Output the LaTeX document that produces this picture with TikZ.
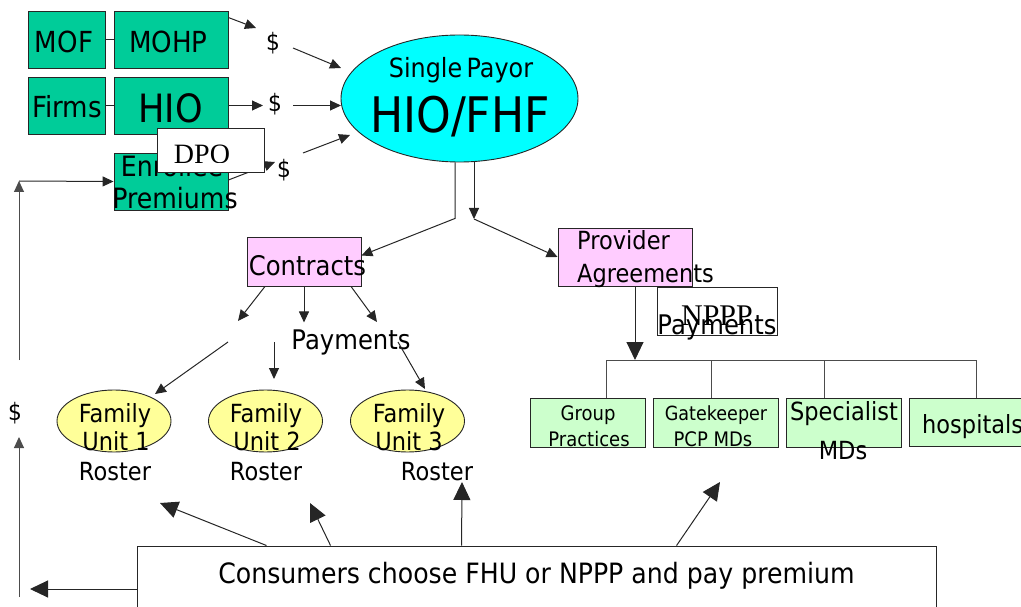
\documentclass[tikz,border=0pt]{standalone}
\usepackage{fontspec}
\setmainfont{DejaVu Sans}[FakeStretch=0.9]
\newfontfamily\dposerif{Liberation Serif}
\usetikzlibrary{arrows.meta,shapes.geometric}
\definecolor{boxgreen}{HTML}{00CC99}
\definecolor{payorcyan}{HTML}{00FFFF}
\definecolor{contpink}{HTML}{FFCCFF}
\definecolor{famyellow}{HTML}{FFFF99}
\definecolor{provgreen}{HTML}{CCFFCC}
\newcommand\fsz[1]{\fontsize{#1}{#1}\selectfont}

\begin{document}
\begin{tikzpicture}[x=1pt,y=-1pt,
  box/.style={draw=black!85, line width=0.9pt, inner sep=0pt, rectangle},
  gbox/.style={box, fill=boxgreen},
  pbox/.style={box, fill=contpink},
  lbox/.style={box, fill=provgreen},
  wbox/.style={box, fill=white},
  oval/.style={ellipse, draw=black!85, line width=0.9pt, inner sep=0pt},
  txt/.style={inner sep=0pt, anchor=base},
  ltxt/.style={inner sep=0pt, anchor=base west},
  dol/.style={inner sep=0pt, font=\fsz{24}},
  ln/.style={line width=1pt, draw=black!85},
  arr/.style={ln, -{Triangle[length=11pt,width=10pt]}},
  bigarr/.style={ln, -{Triangle[length=18pt,width=17pt]}},
]
\useasboundingbox (0,0) rectangle (1021,607);

% --- funding sources ---
\node[gbox, minimum width=77pt, minimum height=57pt] (mof) at (66.5,39.5) {};
\node[txt] (moft) at (64,53) {\fsz{29}MOF};
\node[gbox, minimum width=114pt, minimum height=57pt] (mohp) at (171,39.5) {};
\node[txt] (mohpt) at (168.5,53) {\fsz{29}MOHP};
\draw[ln] (mof.east) -- (mohp.west);

\node[gbox, minimum width=77pt, minimum height=57pt] (firms) at (66.5,105.5) {};
\node[txt] (firmst) at (67,118) {\fsz{29}Firms};
\node[gbox, minimum width=114pt, minimum height=57pt] (hio) at (171,105.5) {};
\node[txt] (hiot) at (170.5,123) {\fsz{39}HIO};
\draw[ln] (firms.east) -- (hio.west);

\node[gbox, minimum width=114pt, minimum height=57pt] (enrol) at (171,181.5) {};
\node[txt] (enrolt1) at (172,177) {\fsz{28}Enrollee};
\node[txt] (enrolt2) at (175,209) {\fsz{28}Premiums};

% --- single payor ---
\node[oval, fill=payorcyan, minimum width=237pt, minimum height=127pt] (payor) at (459.5,98.5) {};
\node[txt] (payort1) at (461,78) {\fsz{26.5}Single\,Payor};
\node[txt] (payort2) at (460,133) {\fsz{49}HIO/FHF};

% --- money flows into the payor ---
\node[dol] (dol1) at (273,43) {\$};
\node[dol] (dol2) at (275,104) {\$};
\node[dol] (dol3) at (284,170) {\$};
\coordinate (a1e) at (256,28);
\coordinate (a2s) at (293,48);
\coordinate (a2e) at (341,68);
\coordinate (a3e) at (263,105.5);
\coordinate (a4s) at (293,105.5);
\coordinate (a4e) at (341,105.5);
\coordinate (a5e) at (275,162);
\coordinate (a6s) at (303,153);
\coordinate (a6e) at (350,135);
\draw[arr] ([yshift=-7pt]mohp.north east) -- (a1e);
\draw[arr] (a2s) -- (a2e);
\draw[arr] (hio.east) -- (a3e);
\draw[arr] (a4s) -- (a4e);
\draw[arr] ([yshift=1.5pt]enrol.east) -- (a5e);
\draw[arr] (a6s) -- (a6e);

% DPO label over the premiums box
\node[wbox, minimum width=107pt, minimum height=44pt] (dpo) at (210.5,150) {};
\begin{scope}
  \clip (dpo.north west) rectangle ([yshift=10pt]dpo.south east);
  \node[txt] (dpot) at (202,163.5) {\dposerif\fsz{28}DPO};
\end{scope}

% --- contracts and provider agreements ---
\node[pbox, minimum width=114pt, minimum height=49pt] (contracts) at (304,261.5) {};
\node[txt] (contractst) at (307.5,275) {\fsz{27}Contracts};
\node[pbox, minimum width=134pt, minimum height=58pt] (provider) at (625,257) {};
\node[ltxt] (providert1) at (577,250) {\fsz{25}Provider};
\node[ltxt] (providert2) at (577,282) {\fsz{25}Agreements};

\coordinate (split) at (474,219);
\draw[arr] ([xshift=-4.5pt]payor.south) -- ++(0,56) -- ([yshift=6pt]contracts.east);
\draw[arr] ([xshift=14.5pt]payor.south) -- (split);
\draw[arr] (split) -- (provider.west);

% --- payments to family health units ---
\node[txt] (paym) at (351,349) {\fsz{27}Payments};
\coordinate (c10) at (238,321);
\coordinate (c12) at (377,322);
\draw[arr] ([xshift=-39pt]contracts.south) -- (c10);
\draw[arr] (contracts.south) -- ++(0,36);
\draw[arr] ([xshift=47pt]contracts.south) -- (c12);

\node[oval, fill=famyellow, minimum width=114pt, minimum height=62pt] (fu1) at (114,421) {};
\node[oval, fill=famyellow, minimum width=114pt, minimum height=62pt] (fu2) at (265.5,421) {};
\node[oval, fill=famyellow, minimum width=114pt, minimum height=62pt] (fu3) at (407.5,421) {};
\node[txt] (fu1a) at (115,422) {\fsz{25}Family};
\node[txt] (fu1b) at (116,450) {\fsz{25}Unit 1};
\node[txt] (fu2a) at (266,422) {\fsz{25}Family};
\node[txt] (fu2b) at (267,450) {\fsz{25}Unit 2};
\node[txt] (fu3a) at (409,422) {\fsz{25}Family};
\node[txt] (fu3b) at (409,450) {\fsz{25}Unit 3};
\node[txt] (ros1) at (115,480) {\fsz{25}Roster};
\node[txt] (ros2) at (266,480) {\fsz{25}Roster};
\node[txt] (ros3) at (437,480) {\fsz{25}Roster};

\coordinate (p1s) at (228,342);
\coordinate (p1e) at (155,394);
\coordinate (p2s) at (274,342);
\coordinate (p2e) at (274,379);
\coordinate (p3s) at (398,342);
\coordinate (p3e) at (425,389);
\draw[arr] (p1s) -- (p1e);
\draw[arr] (p2s) -- (p2e);
\draw[arr] (p3s) -- (p3e);

% --- NPPP payments to providers ---
\node[wbox, minimum width=120pt, minimum height=48pt] (nppp) at (717,311) {};
\node[txt] (npppt) at (717,325) {\dposerif\fsz{30}NPPP};
\node[txt] (npppp) at (717,334) {\fsz{27}Payments};

\coordinate (barL) at (606,360);
\coordinate (barG) at (711,360);
\coordinate (barS) at (824,360);
\coordinate (barR) at (976,360);
\coordinate (barP) at (635,360);
\draw[bigarr] ([xshift=10pt]provider.south) -- (barP);

\node[lbox, minimum width=115pt, minimum height=49pt] (group) at (587.5,422.5) {};
\node[lbox, minimum width=125pt, minimum height=49pt] (gate) at (715.5,422.5) {};
\node[lbox, minimum width=115pt, minimum height=49pt] (spec) at (843.5,422.5) {};
\node[lbox, minimum width=121pt, minimum height=48pt] (hosp) at (969.5,422) {};
\node[txt] (groupa) at (588,420) {\fsz{20}Group};
\node[txt] (groupb) at (589,446) {\fsz{20}Practices};
\node[txt] (gatea) at (716,420) {\fsz{19.5}Gatekeeper};
\node[txt] (gateb) at (713,446) {\fsz{20}PCP MDs};
\node[txt] (speca) at (844,420) {\fsz{25}Specialist};
\node[txt] (specb) at (843,459) {\fsz{25}MDs};
\node[ltxt] (hospt) at (922,433) {\fsz{25}hospitals};

\draw[ln, draw=black!70] (group.north -| barL) -- (barL) -- (barR) -- (hosp.north -| barR);
\draw[ln, draw=black!70] (barG) -- (gate.north -| barG);
\draw[ln, draw=black!70] (barS) -- (spec.north -| barS);

% --- consumer choice ---
\node[wbox, minimum width=799pt, minimum height=74pt] (cons) at (536.5,583) {};
\node[txt] (const) at (536.5,583) {\fsz{28}Consumers choose FHU or NPPP and pay premium};

\coordinate (k1) at (160,503);
\coordinate (k2) at (310,503);
\coordinate (k3) at (462,482);
\coordinate (k4) at (720,482);
\coordinate (kL) at (30,589);
\draw[bigarr] ([xshift=130pt]cons.north west) -- (k1);
\draw[bigarr] ([xshift=194pt]cons.north west) -- (k2);
\draw[bigarr] ([xshift=325pt]cons.north west) -- (k3);
\draw[bigarr] ([xshift=540pt]cons.north west) -- (k4);
\draw[bigarr] ([yshift=-6pt]cons.west) -- (kL);

% --- premium flow back up the left side ---
\node[dol] (dolL) at (15,413) {\$};
\coordinate (l1) at (19,597);
\coordinate (l2) at (19,437);
\coordinate (l3) at (19,360);
\coordinate (l4) at (19,181);
\draw[arr, draw=black!70] (l1) -- (l2);
\draw[arr, draw=black!70] (l3) -- (l4);
\draw[arr] (l4) -- (enrol.west);
\end{tikzpicture}
\end{document}
